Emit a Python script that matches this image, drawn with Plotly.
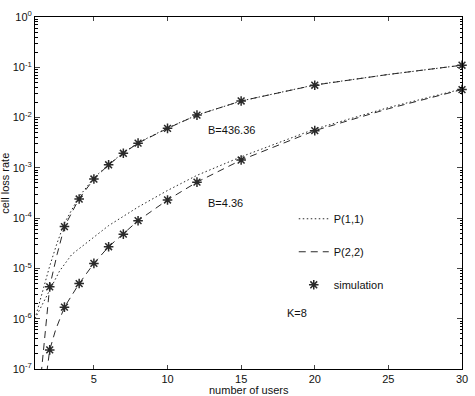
import plotly.graph_objects as go

# ---- data ----
# B = 436.36
x_p22_hi = [1.42, 1.62, 1.8, 2, 2.5, 3, 4, 5, 6, 7, 8, 10, 12, 15, 20, 25, 30]
y_p22_hi = [8e-8, 3.2e-7, 1.4e-6, 4.4e-6, 1.9e-5, 6.8e-5, 2.45e-4, 6.0e-4, 1.15e-3,
            1.95e-3, 3.1e-3, 6.1e-3, 1.12e-2, 2.14e-2, 4.43e-2, 7.2e-2, 1.1e-1]
x_p11_hi = [1, 1.5, 2, 2.5, 3, 4, 5, 6, 7, 8, 10, 12, 15, 20, 25, 30]
y_p11_hi = [1.0e-6, 3.5e-6, 1.12e-5, 3.2e-5, 8.0e-5, 2.7e-4, 6.3e-4, 1.17e-3,
            2.0e-3, 3.16e-3, 6.2e-3, 1.12e-2, 2.14e-2, 4.47e-2, 7.2e-2, 1.1e-1]
# B = 4.36
x_p22_lo = [1.8, 2, 2.4, 3, 4, 5, 6, 7, 8, 10, 12, 15, 20, 25, 30]
y_p22_lo = [8.5e-8, 2.4e-7, 6.0e-7, 1.7e-6, 5.0e-6, 1.26e-5, 2.7e-5, 4.8e-5,
            8.9e-5, 2.3e-4, 5.2e-4, 1.43e-3, 5.5e-3, 1.5e-2, 3.6e-2]
x_p11_lo = [1, 1.5, 2, 2.67, 3.5, 4.7, 6, 8, 10, 12, 15, 20, 25, 30]
y_p11_lo = [1.0e-6, 1.9e-6, 3.8e-6, 8.9e-6, 1.9e-5, 3.6e-5, 7.1e-5, 1.66e-4,
            3.55e-4, 7.1e-4, 1.66e-3, 5.9e-3, 1.58e-2, 3.7e-2]
# simulation
x_sim = [2, 3, 4, 5, 6, 7, 8, 10, 12, 15, 20, 30]
y_sim_hi = [4.3e-6, 6.8e-5, 2.4e-4, 6.0e-4, 1.15e-3, 1.95e-3, 3.1e-3, 6.1e-3,
            1.12e-2, 2.14e-2, 4.4e-2, 1.1e-1]
y_sim_lo = [2.4e-7, 1.7e-6, 5.0e-6, 1.26e-5, 2.7e-5, 4.8e-5, 8.9e-5, 2.3e-4,
            5.2e-4, 1.43e-3, 5.5e-3, 3.6e-2]

x_ticks = [5, 10, 15, 20, 25, 30]
y_exps = [0, -1, -2, -3, -4, -5, -6, -7]

FONT = "Liberation Sans, Arial, Helvetica, sans-serif"
INK = "#2a2a2a"
DOT = "1.5px,2.5px"
DASH = "7px,5px"

fig = go.Figure()

fig.add_trace(go.Scatter(x=x_p11_hi, y=y_p11_hi, mode="lines", name="P(1,1)",
                         line=dict(color=INK, width=1, dash=DOT),
                         legendgroup="a", showlegend=True))
fig.add_trace(go.Scatter(x=x_p11_lo, y=y_p11_lo, mode="lines", name="P(1,1)",
                         line=dict(color=INK, width=1, dash=DOT),
                         legendgroup="a", showlegend=False))
fig.add_trace(go.Scatter(x=x_p22_hi, y=y_p22_hi, mode="lines", name="P(2,2)",
                         line=dict(color=INK, width=1, dash=DASH),
                         legendgroup="b", showlegend=True))
fig.add_trace(go.Scatter(x=x_p22_lo, y=y_p22_lo, mode="lines", name="P(2,2)",
                         line=dict(color=INK, width=1, dash=DASH),
                         legendgroup="b", showlegend=False))
mk = dict(symbol="asterisk-open", size=8, color=INK, line=dict(color=INK, width=1.5))
fig.add_trace(go.Scatter(x=x_sim, y=y_sim_hi, mode="markers", name="simulation",
                         marker=mk, cliponaxis=False,
                         legendgroup="c", showlegend=True))
fig.add_trace(go.Scatter(x=x_sim, y=y_sim_lo, mode="markers", name="simulation",
                         marker=mk, cliponaxis=False,
                         legendgroup="c", showlegend=False))

minor_vals = [m * 10.0 ** e for e in range(-7, 0) for m in range(2, 10)]

fig.update_layout(
    width=475, height=396,
    margin=dict(l=35, r=7, t=17, b=27),
    paper_bgcolor="white", plot_bgcolor="white",
    font=dict(family=FONT, size=11, color="#111"),
    showlegend=True,
    legend=dict(x=0.606, y=0.468, xanchor="left", yanchor="top",
                bgcolor="rgba(0,0,0,0)", borderwidth=0,
                tracegroupgap=14, font=dict(size=11)),
    xaxis=dict(range=[1, 30], tickvals=x_ticks, ticks="inside", ticklen=4,
               showline=True, linecolor="black", linewidth=1, mirror="ticks",
               showgrid=False, zeroline=False, tickfont=dict(size=11)),
    yaxis=dict(type="log", range=[-7, 0],
               tickvals=[10.0 ** e for e in y_exps],
               ticktext=["10<sup>%d</sup>" % e for e in y_exps],
               ticks="inside", ticklen=5,
               minor=dict(tickvals=minor_vals, ticks="inside", ticklen=2.5,
                          tickcolor="black", showgrid=False),
               showline=True, linecolor="black", linewidth=1, mirror="ticks",
               showgrid=False, zeroline=False, tickfont=dict(size=11)),
)

fig.add_annotation(text="B=436.36", x=0.46, y=0.679, xref="paper", yref="paper",
                   showarrow=False, xanchor="center", yanchor="middle")
fig.add_annotation(text="B=4.36", x=0.445, y=0.472, xref="paper", yref="paper",
                   showarrow=False, xanchor="center", yanchor="middle")
fig.add_annotation(text="K=8", x=0.585, y=0.159, xref="paper", yref="paper",
                   showarrow=False, xanchor="left", yanchor="middle")
fig.add_annotation(text="number of users", x=0.5, y=0, xref="paper", yref="paper",
                   yshift=-21, showarrow=False, xanchor="center", yanchor="middle")
fig.add_annotation(text="cell loss rate", x=0, y=0.526, xref="paper", yref="paper",
                   xshift=-30, textangle=-90, showarrow=False,
                   xanchor="center", yanchor="middle")

fig.write_html("out.html")
